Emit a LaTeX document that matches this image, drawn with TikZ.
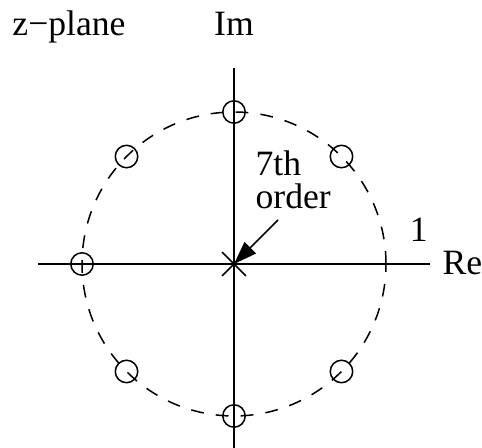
\documentclass[tikz,border=0pt]{standalone}
\usepackage{fontspec}
\setmainfont{Liberation Serif}
\usetikzlibrary{arrows.meta, positioning, shapes.misc}

\begin{document}
\begin{tikzpicture}[
      x=3cm, y=3cm,
      axis/.style={line width=1pt},
      unit/.style={line width=0.85pt, dash pattern=on 7.2pt off 6.8pt},
      zero/.style={draw, circle, line width=0.85pt, minimum size=12.6pt, inner sep=0pt},
      pole/.style={draw, cross out, line width=0.85pt, minimum size=12.5pt, inner sep=0pt},
      lbl/.style={inner sep=0pt, font=\fontsize{20}{19}\selectfont},
      arr/.style={-{Triangle[length=13pt,width=9pt]}, line width=0.9pt}
  ]
    \useasboundingbox (-1.5395,-1.2105) rectangle (1.6316,1.7368);

    % axes and unit circle
    \draw[axis] (-1.29,0) -- (1.29,0);
    \draw[axis] (0,-1.29) -- (0,1.29);
    \draw[unit] (0,0) circle (1);

    % zeros and pole
    \foreach \a in {45,90,...,315}
      \node[zero] (z\a) at (\a:1) {};
    \node[pole] (p) at (0,0) {};

    % labels
    \node[lbl, anchor=base west] (zpl) at (-1.46,1.5) {z−plane};
    \node[lbl, anchor=base] (im) at (0,1.5) {Im};
    \node[lbl, anchor=base west] (re) at (1.37,-0.072) {Re};
    \node[lbl, anchor=base west] (one) at (1.155,0.145) {1};
    \node[lbl, align=left, anchor=base west] (ord) at (0.14,0.362) {7th\\order};

    \coordinate (tail) at (0.29,0.29);
    \draw[arr] (tail) -- (p.center);
  \end{tikzpicture}
\end{document}
